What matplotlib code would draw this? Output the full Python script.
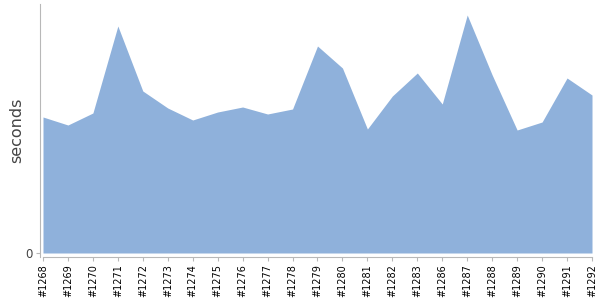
import matplotlib
matplotlib.use("Agg")
import matplotlib.pyplot as plt

# build numbers and durations (seconds)
builds = ["#1268", "#1269", "#1270", "#1271", "#1272", "#1273", "#1274", "#1275",
          "#1276", "#1277", "#1278", "#1279", "#1280", "#1281", "#1282", "#1283",
          "#1286", "#1287", "#1288", "#1289", "#1290", "#1291", "#1292"]
seconds = [136, 128, 140, 227, 162, 145, 133, 141, 146, 139, 144, 207, 185,
           124, 157, 180, 149, 238, 178, 123, 131, 175, 158]

area_color = "#8fb1db"
axis_color = "#b8b8b8"
text_color = "#444444"

fig = plt.figure(figsize=(6, 3), dpi=100)
ax = fig.add_axes([40 / 600, 43 / 300, 553 / 600, 253 / 300])

x = list(range(len(builds)))
ax.fill_between(x, 0, seconds, color=area_color, lw=0)

ax.set_xlim(-3 / 25, len(builds) - 1 + 1 / 25)
ax.set_ylim(-4, 249)
ax.set_xticks(x)
ax.set_xticklabels(builds, rotation=90, fontsize=7, color="black")
ax.set_yticks([0])
ax.set_yticklabels(["0"], fontsize=8.5, color=text_color)
ax.set_ylabel("seconds", fontsize=11.5, color=text_color, labelpad=1)

for side in ["top", "right"]:
    ax.spines[side].set_visible(False)
ax.spines["left"].set_color(axis_color)
ax.spines["bottom"].set_color(axis_color)
ax.spines["bottom"].set_bounds(0, len(builds) - 1)
ax.tick_params(axis="both", length=3, width=0.8, color=axis_color, pad=2)

fig.savefig("out.png", dpi=100)
